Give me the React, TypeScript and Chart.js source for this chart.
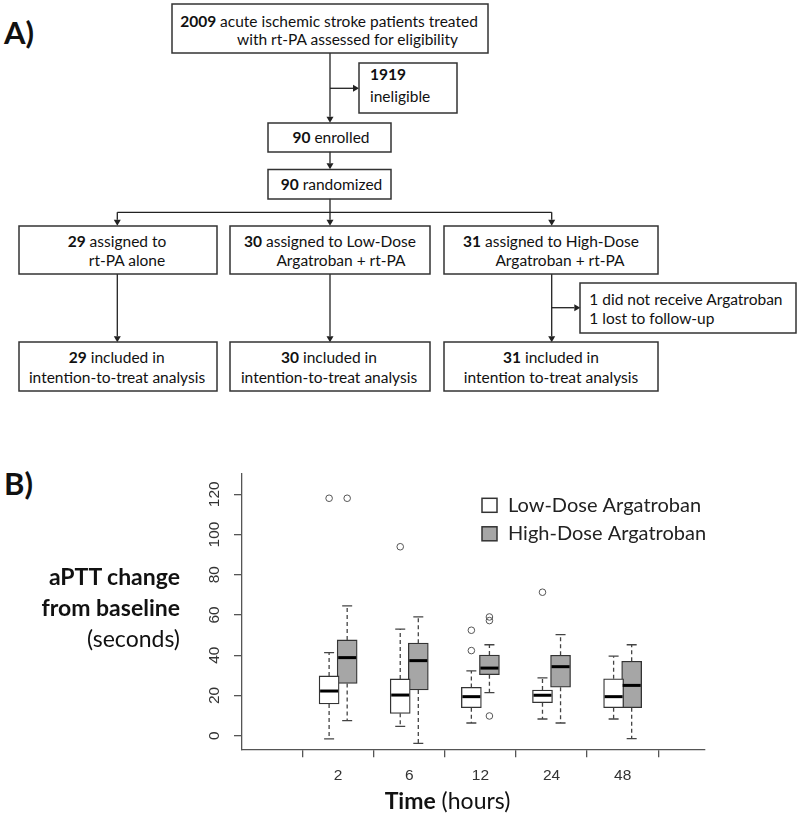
import React, { useEffect, useRef } from 'react';
import { Chart, registerables } from 'chart.js';

Chart.register(...registerables);

// ---------- Data (panel B box plots) ----------
const timeLabels = ['2', '6', '12', '24', '48'];
const seriesNames = ['Low-Dose Argatroban', 'High-Dose Argatroban'];

const lowQ1 = [15.8, 11.1, 13.9, 16.4, 13.9];
const lowMedian = [22.2, 20.2, 19.4, 20.1, 19.4];
const lowQ3 = [29.7, 28.2, 24.0, 22.7, 28.3];
const lowWhiskerLo = [-1.6, 4.6, 6.3, 8.3, 8.3];
const lowWhiskerHi = [41.3, 53.0, 32.2, 28.7, 39.5];
const lowOutliers = [[118], [93.9], [42.3, 52.4], [71.3], []];

const highQ1 = [26.0, 22.7, 30.3, 24.1, 13.9];
const highMedian = [38.8, 37.3, 33.6, 34.3, 25.0];
const highQ3 = [47.6, 46.0, 40.1, 40.0, 37.0];
const highWhiskerLo = [7.5, -3.8, 21.4, 6.3, -1.5];
const highWhiskerHi = [64.5, 59.0, 45.2, 50.2, 45.2];
const highOutliers = [[118], [], [9.8, 57.2, 59.0], [], []];

const yTickValues = [0, 20, 40, 60, 80, 100, 120];

// ---------- Styles ----------
const OFFSET = 0.127;
const LOW_FILL = '#ffffff';
const HIGH_FILL = '#a6a6a6';
const EDGE = '#333333';
const AXIS = '#555555';
const TICK_FONT = '"Liberation Sans", Arial, sans-serif';
const TEXT_FONT = 'Lato, "Noto Sans", sans-serif';

const boxExtras = {
  id: 'boxExtras',
  afterDatasetsDraw(chart: any) {
    const ctx = chart.ctx;
    const ys = chart.scales.y;
    const groups = [
      { meta: chart.getDatasetMeta(0), med: lowMedian, lo: lowWhiskerLo, hi: lowWhiskerHi, q1: lowQ1, q3: lowQ3 },
      { meta: chart.getDatasetMeta(1), med: highMedian, lo: highWhiskerLo, hi: highWhiskerHi, q1: highQ1, q3: highQ3 },
    ];
    ctx.save();
    groups.forEach((g) => {
      g.meta.data.forEach((bar: any, i: number) => {
        const { x, width } = bar.getProps(['x', 'width'], true);
        const yq1 = ys.getPixelForValue(g.q1[i]);
        const yq3 = ys.getPixelForValue(g.q3[i]);
        const ylo = ys.getPixelForValue(g.lo[i]);
        const yhi = ys.getPixelForValue(g.hi[i]);
        const ymed = ys.getPixelForValue(g.med[i]);
        ctx.strokeStyle = '#444';
        ctx.lineWidth = 1.3;
        ctx.setLineDash([4, 3]);
        ctx.beginPath();
        ctx.moveTo(x, yq3);
        ctx.lineTo(x, yhi);
        ctx.moveTo(x, yq1);
        ctx.lineTo(x, ylo);
        ctx.stroke();
        ctx.setLineDash([]);
        const cap = width / 4;
        ctx.beginPath();
        ctx.moveTo(x - cap, yhi);
        ctx.lineTo(x + cap, yhi);
        ctx.moveTo(x - cap, ylo);
        ctx.lineTo(x + cap, ylo);
        ctx.stroke();
        ctx.strokeStyle = '#000';
        ctx.lineWidth = 3;
        ctx.beginPath();
        ctx.moveTo(x - width / 2 + 1, ymed);
        ctx.lineTo(x + width / 2 - 1, ymed);
        ctx.stroke();
      });
    });
    ctx.restore();
  },
};

const yLabels = {
  id: 'yLabels',
  afterDraw(chart: any) {
    const ctx = chart.ctx;
    const ys = chart.scales.y;
    ctx.save();
    ctx.fillStyle = '#333';
    ctx.font = `15.5px ${TICK_FONT}`;
    ctx.textAlign = 'center';
    ctx.textBaseline = 'middle';
    ys.ticks.forEach((t: any) => {
      const y = ys.getPixelForValue(t.value);
      ctx.save();
      ctx.translate(ys.right - 27, y);
      ctx.rotate(-Math.PI / 2);
      ctx.fillText(String(t.value), 0, 0);
      ctx.restore();
    });
    ctx.restore();
  },
};

const boxLegend = {
  id: 'boxLegend',
  afterDraw(chart: any) {
    const ctx = chart.ctx;
    const area = chart.chartArea;
    const x0 = area.left + 240;
    const y0 = area.top + 32;
    ctx.save();
    ctx.font = `20px ${TEXT_FONT}`;
    ctx.textBaseline = 'middle';
    ctx.textAlign = 'left';
    [0, 1].forEach((k) => {
      const ds = chart.data.datasets[k];
      const yc = y0 + k * 28.5;
      ctx.fillStyle = ds.backgroundColor;
      ctx.fillRect(x0, yc - 7, 15, 14);
      ctx.strokeStyle = EDGE;
      ctx.lineWidth = 1.5;
      ctx.strokeRect(x0, yc - 7, 15, 14);
      ctx.fillStyle = '#222';
      ctx.fillText(ds.label, x0 + 26, yc);
    });
    ctx.restore();
  },
};

function BoxChart() {
  const ref = useRef<HTMLCanvasElement | null>(null);
  useEffect(() => {
    if (!ref.current) return;
    const outlierPoints = (arr: number[][], sign: number) =>
      arr.flatMap((vals, i) => vals.map((v) => ({ x: i + 1 + sign * OFFSET, y: v })));
    const chart = new Chart(ref.current, {
      type: 'bar',
      data: {
        datasets: [
          {
            label: seriesNames[0],
            data: timeLabels.map((_, i) => ({ x: i + 1 - OFFSET, y: [lowQ1[i], lowQ3[i]] })) as any,
            backgroundColor: LOW_FILL,
            borderColor: EDGE,
            borderWidth: 1.3,
            borderSkipped: false,
            barThickness: 20,
            grouped: false,
          } as any,
          {
            label: seriesNames[1],
            data: timeLabels.map((_, i) => ({ x: i + 1 + OFFSET, y: [highQ1[i], highQ3[i]] })) as any,
            backgroundColor: HIGH_FILL,
            borderColor: EDGE,
            borderWidth: 1.3,
            borderSkipped: false,
            barThickness: 20,
            grouped: false,
          } as any,
          {
            type: 'scatter',
            label: seriesNames[0] + ' outliers',
            data: outlierPoints(lowOutliers, -1),
            pointStyle: 'circle',
            pointRadius: 3.3,
            pointBackgroundColor: 'rgba(0,0,0,0)',
            pointBorderColor: '#555',
            pointBorderWidth: 1,
          } as any,
          {
            type: 'scatter',
            label: seriesNames[1] + ' outliers',
            data: outlierPoints(highOutliers, 1),
            pointStyle: 'circle',
            pointRadius: 3.3,
            pointBackgroundColor: 'rgba(0,0,0,0)',
            pointBorderColor: '#555',
            pointBorderWidth: 1,
          } as any,
        ],
      },
      options: {
        responsive: false,
        animation: false,
        layout: { padding: { top: 33.3, right: 95, left: 0, bottom: 0 } },
        plugins: { legend: { display: false }, tooltip: { enabled: false } },
        scales: {
          x: {
            type: 'linear',
            min: 0.2992,
            max: 5.507,
            afterBuildTicks: (s: any) => {
              s.ticks = timeLabels.map((_, i) => ({ value: i + 1 }));
            },
            afterFit: (s: any) => {
              s.height = 68.7;
            },
            ticks: {
              autoSkip: false,
              maxRotation: 0,
              padding: 9,
              color: '#333',
              font: { family: TICK_FONT, size: 15.5 },
              callback: (v: any) => timeLabels[Math.round(Number(v)) - 1] ?? '',
            },
            grid: { display: true, drawOnChartArea: false, drawTicks: true, tickLength: 8, color: AXIS, lineWidth: 1.3 },
            border: { display: true, color: AXIS, width: 1.3 },
          },
          y: {
            type: 'linear',
            min: -6.76,
            max: 130.4,
            afterBuildTicks: (s: any) => {
              s.ticks = yTickValues.map((v) => ({ value: v }));
            },
            afterFit: (s: any) => {
              s.width = 242;
            },
            ticks: { display: false },
            grid: { display: true, drawOnChartArea: false, drawTicks: true, tickLength: 8, color: AXIS, lineWidth: 1.3 },
            border: { display: true, color: AXIS, width: 1.3 },
          },
        },
      } as any,
      plugins: [boxExtras, yLabels, boxLegend],
    });
    return () => chart.destroy();
  }, []);
  return (
    <canvas
      ref={ref}
      width={800}
      height={378}
      style={{ position: 'absolute', left: 0, top: 440, width: 800, height: 378 }}
    />
  );
}

// ---------- Panel A flowchart layout ----------
const boxes = [
  [172, 4, 316, 49],
  [359, 63, 98, 50],
  [268, 123, 123, 29],
  [268, 169.5, 123, 29.5],
  [19, 226, 198, 48],
  [230, 226, 200, 48],
  [444, 226, 214, 48],
  [580, 283, 216, 50],
  [19, 342, 198, 49],
  [230, 342, 200, 49],
  [444, 342, 214, 49],
];

type Line = { x: number; y: number; align: 'c' | 'l'; b?: string; t: string };
const texts: Line[] = [
  { x: 329, y: 20.7, align: 'c', b: '2009', t: ' acute ischemic stroke patients treated' },
  { x: 347.5, y: 39.3, align: 'c', t: 'with rt-PA assessed for eligibility' },
  { x: 370, y: 74, align: 'l', b: '1919', t: '' },
  { x: 370, y: 96, align: 'l', t: 'ineligible' },
  { x: 331, y: 137.3, align: 'c', b: '90', t: ' enrolled' },
  { x: 331.5, y: 184, align: 'c', b: '90', t: ' randomized' },
  { x: 117, y: 240.7, align: 'c', b: '29', t: ' assigned to' },
  { x: 127, y: 260, align: 'c', t: 'rt-PA alone' },
  { x: 330, y: 240.7, align: 'c', b: '30', t: ' assigned to Low-Dose' },
  { x: 341, y: 260, align: 'c', t: 'Argatroban + rt-PA' },
  { x: 551, y: 240.7, align: 'c', b: '31', t: ' assigned to High-Dose' },
  { x: 560, y: 260, align: 'c', t: 'Argatroban + rt-PA' },
  { x: 589.3, y: 299, align: 'l', t: '1 did not receive Argatroban' },
  { x: 589.3, y: 318.3, align: 'l', t: '1 lost to follow-up' },
  { x: 116.7, y: 357.3, align: 'c', b: '29', t: ' included in' },
  { x: 117, y: 377.3, align: 'c', t: 'intention-to-treat analysis' },
  { x: 329, y: 357.3, align: 'c', b: '30', t: ' included in' },
  { x: 329, y: 377.3, align: 'c', t: 'intention-to-treat analysis' },
  { x: 551, y: 357.3, align: 'c', b: '31', t: ' included in' },
  { x: 551, y: 377.3, align: 'c', t: 'intention to-treat analysis' },
];

// [x1, y1, x2, y2, arrowhead]
const connectors: [number, number, number, number, boolean][] = [
  [330, 53, 330, 122.7, true],
  [330, 88.3, 359, 88.3, true],
  [330, 151.7, 330, 169.3, true],
  [330, 198.7, 330, 212.3, false],
  [117.3, 212.3, 551.7, 212.3, false],
  [117.3, 212.3, 117.3, 225.7, true],
  [330, 212.3, 330, 225.7, true],
  [551.7, 212.3, 551.7, 225.7, true],
  [117.3, 274, 117.3, 342.3, true],
  [330, 274, 330, 342.3, true],
  [551.7, 274, 551.7, 342.3, true],
  [551.7, 307.7, 580.3, 307.7, true],
];

function Flowchart() {
  const head = 6;
  const hw = 3.5;
  return (
    <>
      <svg width={800} height={440} style={{ position: 'absolute', left: 0, top: 0 }}>
        {connectors.map(([x1, y1, x2, y2, arrow], i) => {
          const dx = Math.sign(x2 - x1);
          const dy = Math.sign(y2 - y1);
          const ex = arrow ? x2 - dx * head : x2;
          const ey = arrow ? y2 - dy * head : y2;
          let tri = '';
          if (arrow) {
            if (dy !== 0) tri = `${x2},${y2} ${x2 - hw},${y2 - dy * head} ${x2 + hw},${y2 - dy * head}`;
            else tri = `${x2},${y2} ${x2 - dx * head},${y2 - hw} ${x2 - dx * head},${y2 + hw}`;
          }
          return (
            <g key={i}>
              <line x1={x1} y1={y1} x2={ex} y2={ey} stroke="#222" strokeWidth={1.3} />
              {arrow && <polygon points={tri} fill="#222" />}
            </g>
          );
        })}
        {boxes.map(([x, y, w, h], i) => (
          <rect key={i} x={x} y={y} width={w} height={h} fill="none" stroke="#333" strokeWidth={1.5} />
        ))}
      </svg>
      {texts.map((l, i) => (
        <div
          key={i}
          style={{
            position: 'absolute',
            left: l.x,
            top: l.y,
            transform: l.align === 'c' ? 'translate(-50%, -50%)' : 'translate(0, -50%)',
            whiteSpace: 'pre',
            fontFamily: TEXT_FONT,
            fontSize: 15.5,
            lineHeight: '18px',
            color: '#111',
          }}
        >
          {l.b && <b>{l.b}</b>}
          {l.t}
        </div>
      ))}
    </>
  );
}

export default function App() {
  const label: React.CSSProperties = {
    position: 'absolute',
    fontFamily: TEXT_FONT,
    fontSize: 23,
    lineHeight: '26px',
    color: '#111',
    whiteSpace: 'pre',
    transform: 'translateY(-50%)',
  };
  return (
    <div
      style={{
        position: 'absolute',
        left: 0,
        top: 0,
        width: 800,
        height: 818,
        background: '#fff',
        overflow: 'hidden',
      }}
    >
      <div style={{ ...label, left: 4, top: 32, fontSize: 31, fontWeight: 700, lineHeight: '36px' }}>A)</div>
      <Flowchart />
      <div style={{ ...label, left: 4, top: 483, fontSize: 31, fontWeight: 700, lineHeight: '36px' }}>B)</div>
      <BoxChart />
      <div style={{ ...label, right: 620, top: 576, fontWeight: 700 }}>aPTT change</div>
      <div style={{ ...label, right: 620, top: 607, fontWeight: 700 }}>from baseline</div>
      <div style={{ ...label, right: 620, top: 638 }}>(seconds)</div>
      <div style={{ ...label, left: 447.5, top: 800, transform: 'translate(-50%, -50%)' }}>
        <b>Time</b> (hours)
      </div>
    </div>
  );
}
